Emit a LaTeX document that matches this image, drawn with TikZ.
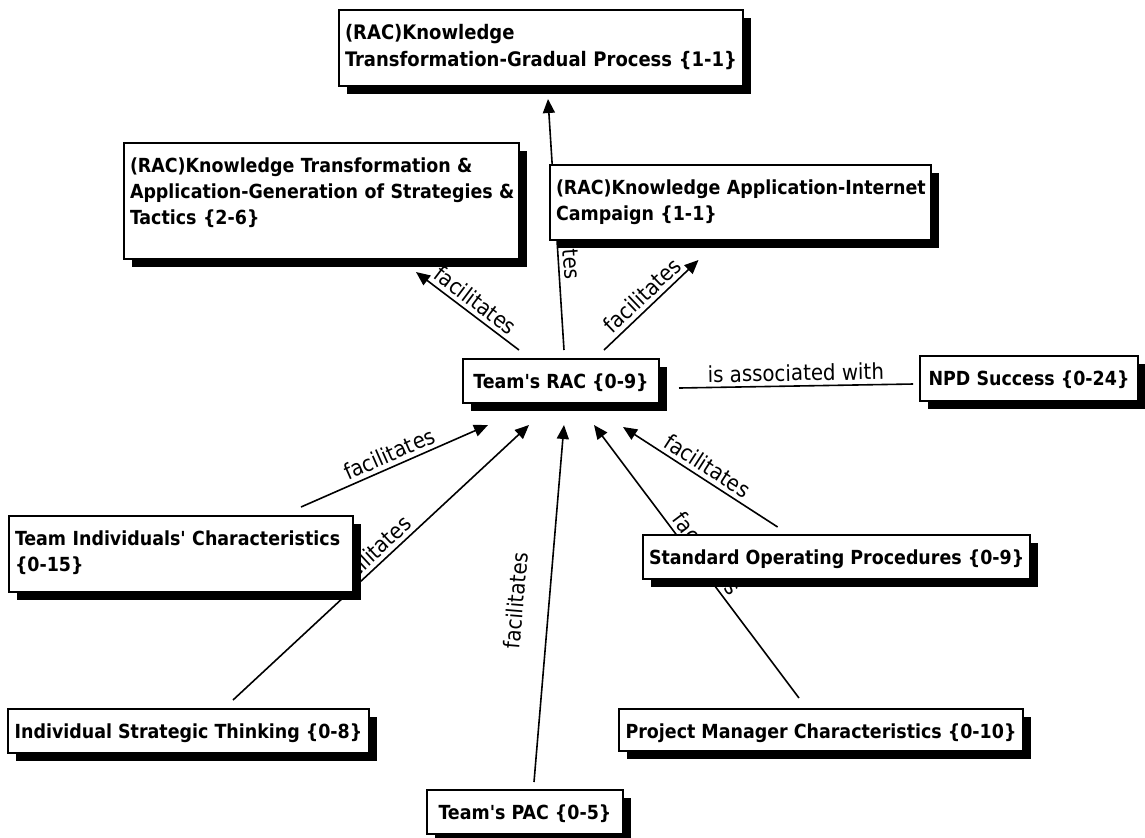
\documentclass[tikz,border=0pt]{standalone}
\usepackage{fontspec}
\usetikzlibrary{arrows.meta,shadows,backgrounds}
\newfontfamily\conceptfont{DejaVu Sans Condensed}
\newcommand{\cfont}{\conceptfont\bfseries\fontsize{9.7}{13.2}\selectfont}
\newcommand{\pfont}{\conceptfont\fontsize{11}{12}\selectfont}

\tikzset{
  concept/.style={draw, line width=1pt, fill=white, anchor=north west, align=left,
    font=\cfont, inner xsep=3pt, inner ysep=0pt, text height=14.5pt,
    drop shadow={shadow xshift=4pt, shadow yshift=-4pt, fill=black, opacity=1}},
  link/.style={line width=0.8pt, -{Triangle[length=7pt,width=6pt]}},
  phrase/.style={font=\pfont, sloped, above, inner sep=2pt}
}

\begin{document}
\begin{tikzpicture}[x=0.5pt,y=-0.5pt]
		\useasboundingbox (0,0) rectangle (1145,837);
		% concepts
		\node[concept, text width=196pt, text depth=23.5pt, font=\cfont\fontsize{10}{13.5}\selectfont] (top) at (338,9) {\mbox{(RAC)Knowledge}\\\mbox{Transformation-Gradual Process \{1-1\}}};
		\node[concept, text width=191.5pt, text depth=43.5pt] (strat) at (123,142) {\mbox{(RAC)Knowledge Transformation \&}\\\mbox{Application-Generation of Strategies \&}\\\mbox{Tactics \{2-6\}}};
		\node[concept, text width=184.5pt, text depth=23pt] (inet) at (549,164) {\mbox{(RAC)Knowledge Application-Internet}\\\mbox{Campaign \{1-1\}}};
		\node[concept, minimum width=98pt, text depth=7.5pt] (rac) at (462,358) {Team\textquotesingle s RAC \{0-9\}};
		\node[concept, minimum width=109pt, text depth=8pt] (npd) at (919,355) {NPD Success \{0-24\}};
		\node[concept, text width=166pt, text depth=23.5pt] (tic) at (8,515) {\mbox{Team Individuals\textquotesingle\ Characteristics}\\\mbox{\{0-15\}}};
		\node[concept, minimum width=192pt, text depth=7.5pt] (sop) at (642,534) {Standard Operating Procedures \{0-9\}};
		\node[concept, minimum width=180.5pt, text depth=7.5pt] (ist) at (7,708) {Individual Strategic Thinking \{0-8\}};
		\node[concept, minimum width=202pt, text depth=6.5pt] (pm) at (618,708) {Project Manager Characteristics \{0-10\}};
		\node[concept, minimum width=98pt, text depth=7.5pt] (pac) at (426,789) {Team\textquotesingle s PAC \{0-5\}};

		% links
		\begin{scope}[on background layer]
		\draw[link] ([shift={(3,-8)}]rac.north) -- node[phrase, pos=0.47] {facilitates} ([shift={(7,12)}]top.south);
		\draw[link] ([shift={(-42,-8)}]rac.north) -- node[phrase] {facilitates} ([shift={(94.5,12)}]strat.south);
		\draw[link] ([shift={(43,-8)}]rac.north) -- node[phrase] {facilitates} ([shift={(-42,19)}]inet.south);
		\draw[link] ([shift={(120,-8)}]tic.north) -- node[phrase] {facilitates} ([shift={(-73,21)}]rac.south);
		\draw[link] ([shift={(44.5,-8)}]ist.north) -- node[phrase] {facilitates} ([shift={(-32,21)}]rac.south);
		\draw[link] ([shift={(9,-7)}]pac.north) -- node[phrase, above=10pt] {facilitates} ([shift={(3,21)}]rac.south);
		\draw[link] ([shift={(-22,-10)}]pm.north) -- node[phrase] {facilitates} ([shift={(33,21)}]rac.south);
		\draw[link] ([shift={(-59,-7)}]sop.north) -- node[phrase] {facilitates} ([shift={(62,23)}]rac.south);
		\draw[line width=0.8pt] ([shift={(19,7)}]rac.east) -- node[phrase] {is associated with} ([shift={(-6,5.5)}]npd.west);
		\end{scope}
\end{tikzpicture}
\end{document}
